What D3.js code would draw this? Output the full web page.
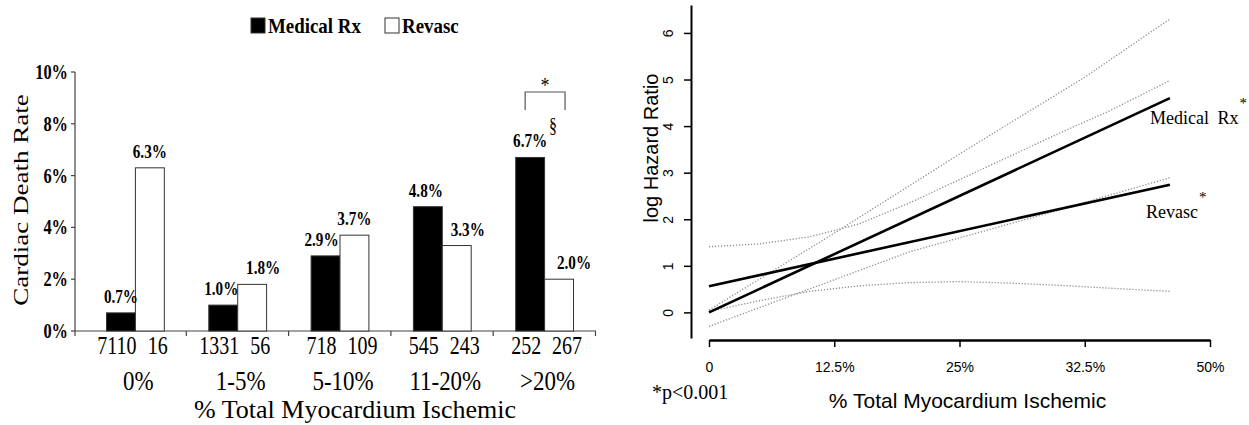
<!DOCTYPE html>
<html lang="en">
<head>
<meta charset="UTF-8">
<title>Cardiac death by ischemia</title>
<script src="https://d3js.org/d3.v7.min.js"></script>
<style>
  body { margin: 0; background: #fff; }
  svg { display: block; }
  .serif { font-family: "Liberation Serif", "Times New Roman", serif; }
  .sans { font-family: "Liberation Sans", Arial, sans-serif; }
</style>
</head>
<body>
<div id="chart"></div>
<script>
// ---- left panel data ----
const categories = ["0%", "1-5%", "5-10%", "11-20%", ">20%"];
const series = ["Medical Rx", "Revasc"];
const medicalRate = [0.7, 1.0, 2.9, 4.8, 6.7];
const revascRate = [6.3, 1.8, 3.7, 3.3, 2.0];
const medicalN = [7110, 1331, 718, 545, 252];
const revascN = [16, 56, 109, 243, 267];
const rateTicks = [0, 2, 4, 6, 8, 10];

// ---- right panel data ----
const ischemiaTicks = [0, 12.5, 25, 37.5, 50];
const ischemiaTickLabels = ["0", "12.5%", "25%", "32.5%", "50%"];
const hazardTicks = [0, 1, 2, 3, 4, 5, 6];
const medicalFit = [[0, 0], [46, 4.6]];
const revascFit = [[0, 0.56], [46, 2.74]];
const medicalUpper = [[0, 0.05], [12.5, 1.7], [25, 3.4], [37.5, 5.05], [46, 6.3]];
const medicalLower = [[0, -0.3], [5, 0.1], [10, 0.5], [15, 0.9], [20, 1.3], [25, 1.6], [30, 1.9], [35, 2.2], [40, 2.52], [46, 2.89]];
const revascUpper = [[0, 1.41], [5, 1.47], [10, 1.62], [15, 1.9], [20, 2.35], [25, 2.85], [30, 3.35], [35, 3.85], [40, 4.33], [46, 4.98]];
const revascLower = [[0, 0.02], [5, 0.25], [10, 0.45], [15, 0.57], [20, 0.64], [25, 0.66], [30, 0.63], [35, 0.58], [40, 0.52], [46, 0.45]];

// hand placement of the bar value labels (px, sideways), as in the figure
const labelNudge = [[0, -2, -4, -2, 0], [0, 11, 0, 11, 15]];

const svg = d3.select("#chart").append("svg")
  .attr("width", 1249).attr("height", 425);

// text squeezed horizontally, like the scanned figure
function sText(g, x, y, str, size, sx, cls) {
  return g.append("text")
    .attr("class", cls || "serif")
    .attr("transform", `translate(${x},${y}) scale(${sx},1)`)
    .style("font-size", size + "px")
    .text(str);
}

// ================= left: bar chart =================
const L = svg.append("g");
const rows = categories.map((c, i) => ({
  cat: c, i: i,
  vals: [
    { s: series[0], v: medicalRate[i], n: medicalN[i] },
    { s: series[1], v: revascRate[i], n: revascN[i] }
  ]
}));

const x0 = d3.scaleBand().domain(categories).range([84, 596])
  .paddingInner(0.435).paddingOuter(0.22);
const x1 = d3.scaleBand().domain(series).range([0, x0.bandwidth()]);
const y = d3.scaleLinear().domain([0, 10]).range([331, 72]);
const fillOf = d3.scaleOrdinal().domain(series).range(["#000", "#fff"]);

// y axis
L.append("line").attr("x1", 75).attr("x2", 75).attr("y1", y(10)).attr("y2", y(0) + 5)
  .attr("stroke", "#444").attr("stroke-width", 1.2);
rateTicks.forEach(t => {
  L.append("line").attr("x1", 71).attr("x2", 75).attr("y1", y(t)).attr("y2", y(t))
    .attr("stroke", "#444").attr("stroke-width", 1.2);
  sText(L, 68, y(t) + 7, t + "%", 21, 0.78).attr("text-anchor", "end")
    .style("font-weight", "bold");
});

// x axis with ticks between groups
L.append("line").attr("x1", 75).attr("x2", 596).attr("y1", y(0)).attr("y2", y(0))
  .attr("stroke", "#444").attr("stroke-width", 1.2);
d3.range(1, categories.length + 1).forEach(i => {
  const xx = x0.range()[0] + i * x0.step();
  L.append("line").attr("x1", xx).attr("x2", xx).attr("y1", y(0)).attr("y2", y(0) + 5)
    .attr("stroke", "#444").attr("stroke-width", 1.2);
});

const grp = L.selectAll(".grp").data(rows).enter().append("g")
  .attr("transform", d => `translate(${x0(d.cat)},0)`);

grp.selectAll("rect").data(d => d.vals).enter().append("rect")
  .attr("x", d => x1(d.s))
  .attr("y", d => y(d.v))
  .attr("width", x1.bandwidth())
  .attr("height", d => y(0) - y(d.v))
  .attr("fill", d => fillOf(d.s))
  .attr("stroke", "#333").attr("stroke-width", 1);

grp.each(function (d) {
  const g = d3.select(this);
  d.vals.forEach((b, j) => {
    const cx = x1(b.s) + x1.bandwidth() / 2;
    sText(g, cx + labelNudge[j][d.i], y(b.v) - 10, b.v.toFixed(1) + "%", 19, 0.8)
      .attr("text-anchor", "middle").style("font-weight", "bold");
    sText(g, cx + (j === 0 ? -4 : 8), 354, b.n, 25, 0.8).attr("text-anchor", "middle");
  });
  sText(g, x0.bandwidth() / 2 + 3, 390, d.cat, 27, 0.85).attr("text-anchor", "middle");
});

// significance bracket over the last group
{
  const gx = x0(categories[4]);
  const a = gx + x1(series[0]) + x1.bandwidth() / 2 - 5;
  const b = gx + x1(series[1]) + x1.bandwidth() / 2 + 6;
  L.append("path").attr("d", `M${a},110V92H${b}V110`)
    .attr("fill", "none").attr("stroke", "#555").attr("stroke-width", 1.2);
  sText(L, (a + b) / 2, 92, "*", 20, 0.9).attr("text-anchor", "middle");
  sText(L, b - 12, 132, "§", 20, 0.8).attr("text-anchor", "middle");
}

// axis titles
sText(L, 355, 418, "% Total Myocardium Ischemic", 26, 1.0).attr("text-anchor", "middle");
L.append("text").attr("class", "serif")
  .attr("transform", "translate(21,200) scale(0.75,1) rotate(-90)")
  .attr("text-anchor", "middle").attr("dy", "0.35em")
  .style("font-size", "27px").text("Cardiac Death Rate");

// legend
series.forEach((s, i) => {
  const lx = i === 0 ? 251 : 385;
  L.append("rect").attr("x", lx).attr("y", 18).attr("width", 14).attr("height", 15)
    .attr("fill", fillOf(s)).attr("stroke", "#333").attr("stroke-width", 1);
  sText(L, lx + 17, 33, s, 21, 0.9).style("font-weight", "bold");
});

// ================= right: hazard ratio lines =================
const R = svg.append("g");
const hx = d3.scaleLinear().domain([0, 50]).range([709, 1210]);
const hy = d3.scaleLinear().domain([-0.55, 6.6]).range([338, 5]);

const yAx = R.append("g").attr("transform", "translate(691,0)")
  .call(d3.axisLeft(hy).tickValues(hazardTicks).tickSize(7).tickSizeOuter(0).tickFormat(d3.format("d")));
yAx.select(".domain").attr("stroke-width", 2);
yAx.selectAll(".tick line").attr("stroke-width", 1.5);
yAx.selectAll(".tick text")
  .attr("x", null)
  .attr("transform", "translate(-23,0) rotate(-90)")
  .attr("dy", "0.35em").attr("text-anchor", "middle")
  .attr("class", "sans").style("font-size", "14px");

const xAx = R.append("g").attr("transform", "translate(0,340)")
  .call(d3.axisBottom(hx).tickValues(ischemiaTicks).tickSize(7).tickPadding(15).tickSizeOuter(0)
    .tickFormat((d, i) => ischemiaTickLabels[i]));
xAx.select(".domain").attr("stroke-width", 2.5);
xAx.selectAll(".tick line").attr("stroke-width", 1.5);
xAx.selectAll(".tick text").attr("class", "sans").style("font-size", "14px");

const line = d3.line().x(d => hx(d[0])).y(d => hy(d[1]));
[medicalUpper, medicalLower, revascUpper, revascLower].forEach(ci => {
  R.append("path").attr("d", line(ci)).attr("fill", "none")
    .attr("stroke", "#8a8a8a").attr("stroke-width", 1.3).attr("stroke-dasharray", "1.2,1.8");
});
[medicalFit, revascFit].forEach(f => {
  R.append("path").attr("d", line(f)).attr("fill", "none")
    .attr("stroke", "#000").attr("stroke-width", 2.6);
});

// line labels with superscript stars
function lineLabel(str, x, yb) {
  const t = R.append("text").attr("class", "serif").attr("x", x).attr("y", yb)
    .style("font-size", "18px").style("word-spacing", "4px").text(str);
  const w = t.node().getComputedTextLength();
  R.append("text").attr("class", "serif").attr("x", x + w + 1).attr("y", yb - 16)
    .style("font-size", "15px").text("*");
}
lineLabel("Medical Rx", hx(46) - 20, 124);
lineLabel("Revasc", hx(46) - 24, 218);

R.append("text").attr("class", "serif").attr("x", 652).attr("y", 399)
  .style("font-size", "20px").text("*p<0.001");
R.append("text").attr("class", "sans").attr("x", hx(25.8)).attr("y", 408)
  .attr("text-anchor", "middle").style("font-size", "21px").text("% Total Myocardium Ischemic");
R.append("text").attr("class", "sans")
  .attr("transform", "translate(651,148) rotate(-90)")
  .attr("text-anchor", "middle").attr("dy", "0.35em")
  .style("font-size", "20px").text("log Hazard Ratio");
</script>
</body>
</html>
